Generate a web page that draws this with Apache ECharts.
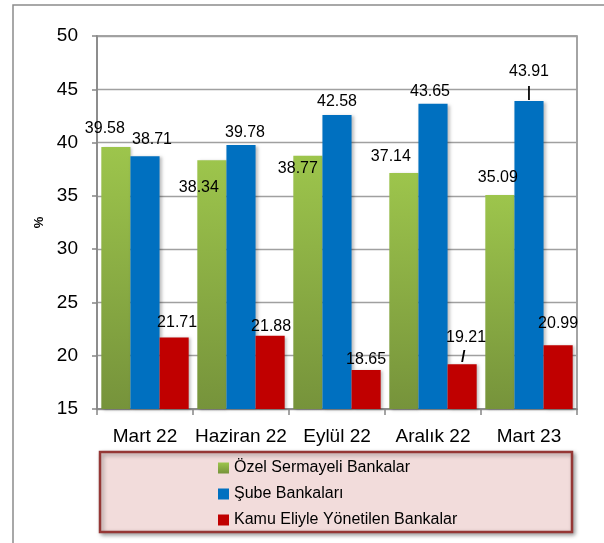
<!DOCTYPE html>
<html>
<head>
<meta charset="utf-8">
<script src="https://cdn.jsdelivr.net/npm/echarts@6/dist/echarts.min.js"></script>
<style>
html,body{margin:0;padding:0;background:#fff;}
#c{width:604px;height:543px;}
</style>
</head>
<body>
<div id="c"></div>
<script>
// ---- data ----
const categories = ['Mart 22', 'Haziran 22', 'Eylül 22', 'Aralık 22', 'Mart 23'];
const seriesNames = ['Özel Sermayeli Bankalar', 'Şube Bankaları', 'Kamu Eliyle Yönetilen Bankalar'];
const ozelValues = [39.58, 38.34, 38.77, 37.14, 35.09];
const subeValues = [38.71, 39.78, 42.58, 43.65, 43.91];
const kamuValues = [21.71, 21.88, 18.65, 19.21, 20.99];
const yTicks = { min: 15, max: 50, interval: 5 };

// ---- label placement (style only) ----
const ozelLabelOffsets = [[-11, -18], [-13, 27], [-10, 13], [-13, -16], [-2, -17]];
const subeLabelOffsets = [[7, -17], [4, -12], [0, -13], [-3, -12], [0, -1]];
const kamuLabelOffsets = [[3, -15], [1, -9], [0, -11], [4, 0], [0, -22]];
// leader lines drawn as glyphs: index -> glyph style
const subeLeaders = { 4: { ch: '|', size: 14, lh: 14, l1: 28, pad: [0, 0, 0, 0] } };
const kamuLeaders = { 3: { ch: '/', size: 16, lh: 13, l1: 28, pad: [0, 6, 0, 0] } };

const FONT = 'Liberation Sans';

function buildData(values, offsets, leaders) {
  return values.map(function (v, i) {
    const off = offsets[i];
    const ld = leaders[i];
    if (ld) {
      return {
        value: v,
        label: {
          show: true,
          position: ['50%', 0],
          align: 'center',
          verticalAlign: 'bottom',
          offset: off,
          formatter: function (p) { return '{v|' + p.value.toFixed(2) + '}\n{l|' + ld.ch + '}'; },
          rich: {
            v: { fontSize: 16, lineHeight: ld.l1, color: '#000', fontFamily: FONT },
            l: { fontSize: ld.size, lineHeight: ld.lh, color: '#000', fontFamily: FONT, fontWeight: 'bold', padding: ld.pad }
          }
        }
      };
    }
    return {
      value: v,
      label: {
        show: true,
        position: ['50%', 0],
        align: 'center',
        verticalAlign: 'middle',
        offset: off,
        formatter: function (p) { return p.value.toFixed(2); }
      }
    };
  });
}

const barShadow = {
  shadowBlur: 3,
  shadowOffsetX: 2,
  shadowOffsetY: 1,
  shadowColor: 'rgba(0,0,0,0.25)'
};

const chart = echarts.init(document.getElementById('c'), null, { renderer: 'canvas' });

const option = {
  animation: false,
  backgroundColor: '#ffffff',
  textStyle: { fontFamily: FONT },
  graphic: [
    {
      type: 'rect',
      z: -10,
      silent: true,
      shape: { x: 13, y: 5, width: 700, height: 600 },
      style: { fill: 'none', stroke: '#8c8c8c', lineWidth: 1.5 }
    },
    {
      type: 'rect',
      z: 1,
      silent: true,
      shape: { x: 100, y: 452, width: 472, height: 80 },
      style: {
        fill: '#f2dcdb', stroke: '#953735', lineWidth: 2.5,
        shadowBlur: 4, shadowOffsetX: 2, shadowOffsetY: 2, shadowColor: 'rgba(0,0,0,0.35)'
      }
    }
  ],
  legend: {
    orient: 'vertical',
    left: 213,
    top: 455,
    z: 5,
    itemWidth: 11,
    itemHeight: 11,
    itemGap: 10,
    icon: 'rect',
    textStyle: { fontSize: 16, color: '#000', fontFamily: FONT },
    data: seriesNames
  },
  grid: {
    left: 97,
    right: 27,
    top: 36,
    bottom: 134,
    show: true,
    borderColor: '#868686',
    borderWidth: 1.5,
    backgroundColor: 'transparent'
  },
  xAxis: {
    type: 'category',
    data: categories,
    axisLine: { lineStyle: { color: '#868686', width: 1.5 } },
    axisTick: { show: true, length: 6, lineStyle: { color: '#868686', width: 1.5 } },
    axisLabel: { fontSize: 19, color: '#000', margin: 18, fontFamily: FONT, interval: 0, hideOverlap: false }
  },
  yAxis: {
    type: 'value',
    min: yTicks.min,
    max: yTicks.max,
    interval: yTicks.interval,
    name: '%',
    nameLocation: 'middle',
    nameRotate: 90,
    nameGap: 51,
    nameTextStyle: { fontSize: 13, fontWeight: 'bold', color: '#000', fontFamily: FONT },
    axisLine: { show: true, lineStyle: { color: '#868686', width: 1.5 } },
    axisTick: { show: true, length: 5, lineStyle: { color: '#868686', width: 1.5 } },
    axisLabel: { fontSize: 19, color: '#000', margin: 19, fontFamily: FONT },
    splitLine: { show: true, lineStyle: { color: '#a0a0a0', width: 1.3 } }
  },
  series: [
    {
      name: seriesNames[0],
      type: 'bar',
      barGap: '0%',
      barCategoryGap: '9%',
      label: { fontSize: 16, color: '#000', fontFamily: FONT },
      itemStyle: Object.assign({
        color: new echarts.graphic.LinearGradient(0, 0, 0, 1, [
          { offset: 0, color: '#9dc54c' },
          { offset: 1, color: '#76933b' }
        ])
      }, barShadow),
      data: buildData(ozelValues, ozelLabelOffsets, {})
    },
    {
      name: seriesNames[1],
      type: 'bar',
      barGap: '0%',
      barCategoryGap: '9%',
      label: { fontSize: 16, color: '#000', fontFamily: FONT },
      itemStyle: Object.assign({ color: '#0070c0' }, barShadow),
      data: buildData(subeValues, subeLabelOffsets, subeLeaders)
    },
    {
      name: seriesNames[2],
      type: 'bar',
      barGap: '0%',
      barCategoryGap: '9%',
      label: { fontSize: 16, color: '#000', fontFamily: FONT },
      itemStyle: Object.assign({ color: '#c00000' }, barShadow),
      data: buildData(kamuValues, kamuLabelOffsets, kamuLeaders)
    }
  ]
};

chart.setOption(option);
</script>
</body>
</html>
